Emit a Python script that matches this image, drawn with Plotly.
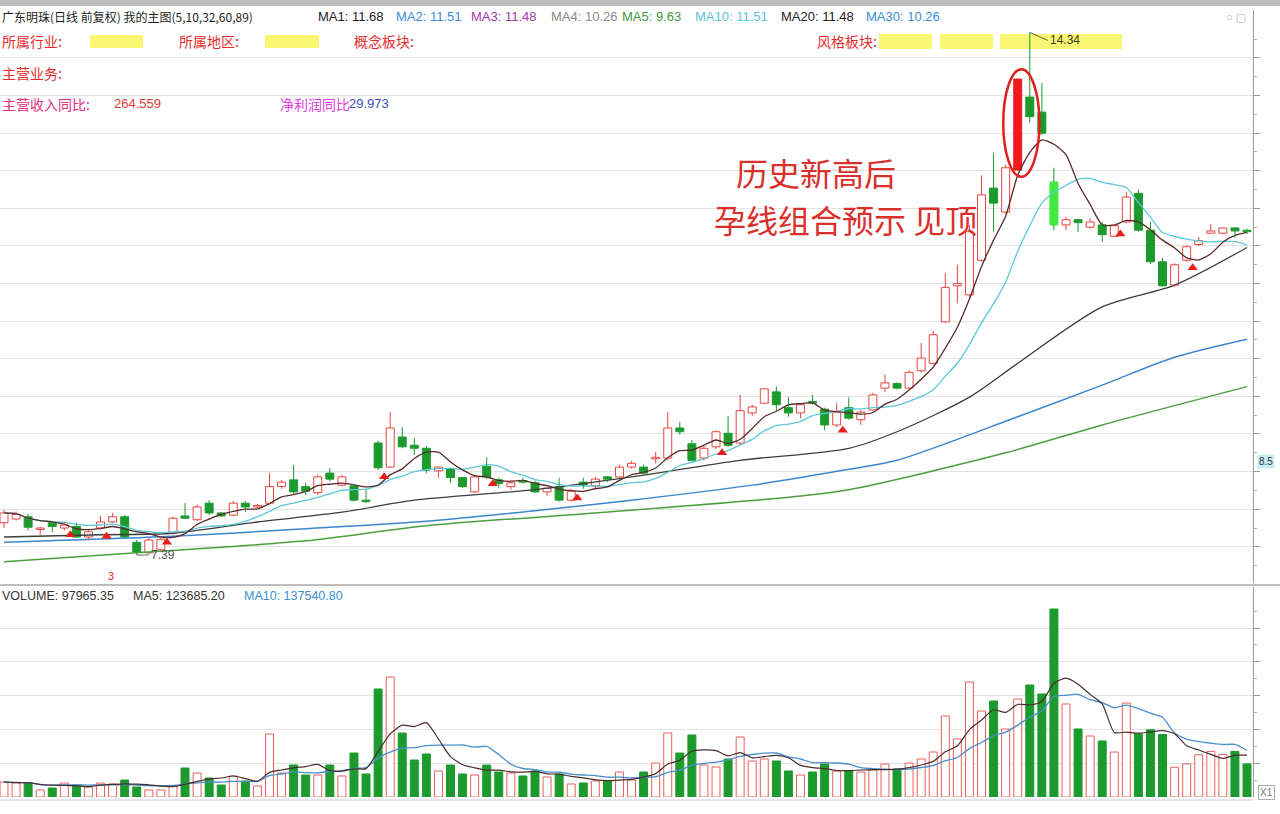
import pandas as pd
import plotly.graph_objects as go

# ---------------- daily quotes (forward-adjusted) ----------------
open_ = [7.82, 7.87, 7.90, 7.73, 7.82, 7.75, 7.77, 7.63, 7.75, 7.83,
         7.90, 7.56, 7.42, 7.46, 7.68, 7.91, 7.86, 8.08, 7.95, 7.92,
         8.08, 8.03, 8.08, 8.30, 8.39, 8.30, 8.22, 8.48, 8.32, 8.31,
         8.12, 8.88, 8.56, 8.96, 8.85, 8.81, 8.51, 8.54, 8.42, 8.23,
         8.57, 8.39, 8.30, 8.38, 8.35, 8.23, 8.30, 8.12, 8.36, 8.31,
         8.43, 8.43, 8.56, 8.56, 8.67, 8.68, 9.08, 8.87, 8.68, 8.83,
         9.01, 8.88, 9.28, 9.41, 9.56, 9.35, 9.28, 9.43, 9.33, 9.12,
         9.35, 9.19, 9.32, 9.61, 9.67, 9.61, 9.84, 9.94, 10.49, 10.97,
         10.85, 11.31, 12.27, 11.95, 12.51, 13.48, 13.28, 12.35, 11.78, 11.85,
         11.75, 11.78, 11.63, 11.82, 12.20, 11.71, 11.29, 10.98, 11.31, 11.52,
         11.67, 11.67, 11.74, 11.71]
high = [7.99, 7.97, 7.94, 7.76, 7.84, 7.83, 7.82, 7.72, 7.91, 7.95,
        7.92, 7.59, 7.62, 7.63, 7.90, 8.08, 8.06, 8.12, 7.96, 8.11,
        8.11, 8.07, 8.48, 8.39, 8.59, 8.35, 8.46, 8.55, 8.46, 8.34,
        8.26, 8.91, 9.29, 9.09, 8.95, 8.84, 8.57, 8.55, 8.43, 8.44,
        8.69, 8.42, 8.39, 8.42, 8.38, 8.28, 8.42, 8.27, 8.42, 8.43,
        8.44, 8.59, 8.64, 8.59, 8.76, 9.29, 9.16, 8.92, 8.84, 9.05,
        9.24, 9.52, 9.39, 9.61, 9.63, 9.49, 9.40, 9.52, 9.35, 9.41,
        9.49, 9.32, 9.55, 9.79, 9.69, 9.85, 10.21, 10.37, 11.14, 11.25,
        11.78, 12.44, 12.74, 12.58, 13.72, 14.34, 13.67, 12.54, 11.89, 11.86,
        11.87, 11.82, 11.79, 12.22, 12.25, 11.82, 11.34, 11.27, 11.51, 11.62,
        11.79, 11.74, 11.75, 11.73]
low = [7.75, 7.85, 7.72, 7.66, 7.69, 7.72, 7.62, 7.59, 7.72, 7.82,
       7.62, 7.39, 7.40, 7.44, 7.66, 7.87, 7.84, 7.92, 7.90, 7.91,
       7.96, 8.01, 8.06, 8.27, 8.20, 8.19, 8.19, 8.37, 8.30, 8.10,
       8.08, 8.52, 8.55, 8.81, 8.72, 8.48, 8.42, 8.35, 8.28, 8.22,
       8.40, 8.28, 8.26, 8.34, 8.22, 8.18, 8.10, 8.10, 8.27, 8.28,
       8.36, 8.42, 8.54, 8.46, 8.61, 8.65, 8.99, 8.63, 8.65, 8.80,
       8.83, 8.85, 9.24, 9.40, 9.29, 9.23, 9.21, 9.39, 9.05, 9.09,
       9.19, 9.12, 9.31, 9.56, 9.59, 9.59, 9.82, 9.92, 10.48, 10.74,
       10.82, 11.29, 11.69, 11.93, 12.50, 13.14, 12.98, 11.71, 11.71, 11.69,
       11.73, 11.55, 11.62, 11.80, 11.69, 11.26, 10.96, 10.96, 11.29, 11.50,
       11.67, 11.66, 11.61, 11.66]
close = [7.95, 7.93, 7.76, 7.75, 7.77, 7.79, 7.63, 7.70, 7.83, 7.90,
         7.63, 7.43, 7.59, 7.60, 7.88, 7.88, 8.03, 7.95, 7.91, 8.08,
         8.03, 8.05, 8.30, 8.36, 8.23, 8.24, 8.43, 8.40, 8.43, 8.12,
         8.10, 8.55, 9.08, 8.83, 8.81, 8.52, 8.56, 8.42, 8.30, 8.43,
         8.43, 8.34, 8.35, 8.36, 8.23, 8.28, 8.12, 8.24, 8.32, 8.40,
         8.40, 8.56, 8.61, 8.48, 8.69, 9.08, 9.03, 8.65, 8.81, 9.03,
         8.85, 9.31, 9.36, 9.60, 9.39, 9.28, 9.39, 9.41, 9.12, 9.29,
         9.21, 9.29, 9.52, 9.68, 9.61, 9.82, 10.01, 10.32, 10.95, 11.00,
         11.69, 12.18, 12.07, 12.54, 13.72, 13.22, 13.00, 11.78, 11.85, 11.81,
         11.82, 11.65, 11.77, 12.15, 11.71, 11.29, 10.97, 11.25, 11.49, 11.57,
         11.70, 11.74, 11.70, 11.69]
volume = [44400, 41400, 41400, 20700, 26600, 41400, 35500, 29600, 41400, 38500,
          50300, 29600, 20700, 20700, 32600, 85800, 71000, 56200, 35500, 62200,
          47400, 32600, 186500, 71000, 94700, 65100, 65100, 94700, 62200, 130200,
          68100, 319700, 355200, 189400, 109500, 127300, 77000, 94700, 68100, 65100,
          94700, 74000, 71000, 62200, 77000, 59200, 68100, 38500, 41400, 47400,
          47400, 74000, 50300, 74000, 100600, 189400, 130200, 183500, 94700, 88800,
          112500, 177600, 106600, 112500, 106600, 77000, 65100, 74000, 97700, 77000,
          77000, 74000, 79900, 97700, 82900, 100600, 112500, 133200, 239800, 171700,
          340400, 254600, 284200, 201300, 290100, 331500, 304900, 556500, 275300, 201300,
          180600, 165800, 133200, 278200, 187000, 199000, 185000, 88000, 97982, 125000,
          135000, 126000, 134460.65, 97965.35]

# long-period averages of the study "我的主图(5,10,32,60,89)"
ma32_idx = [0, 8, 14, 21, 28, 34, 44, 52, 61, 70, 74, 80, 84, 91, 97, 103]
ma32_val = [7.63, 7.66, 7.68, 7.83, 7.96, 8.12, 8.26, 8.43, 8.65, 8.81, 9.03, 9.49, 9.94, 10.69, 10.98, 11.48]
ma60_idx = [0, 14, 25, 35, 44, 52, 62, 70, 74, 84, 91, 97, 103]
ma60_val = [7.56, 7.64, 7.74, 7.84, 7.98, 8.12, 8.32, 8.53, 8.65, 9.23, 9.65, 10.02, 10.26]
ma89_idx = [0, 11, 25, 35, 49, 65, 70, 83, 91, 103]
ma89_val = [7.30, 7.42, 7.58, 7.78, 7.95, 8.16, 8.26, 8.75, 9.12, 9.63]

# buy-signal arrows under the bars
signal_idx = [5.5, 8.5, 13.5, 31.5, 40.5, 47.5, 59.5, 69.5, 92.5, 98.5]
signal_px = [7.66, 7.64, 7.56, 8.43, 8.34, 8.15, 8.75, 9.05, 11.66, 11.21]

# ---------------- derived series ----------------
n = len(close)
idx = list(range(n))
ma5 = pd.Series(close).rolling(5, min_periods=1).mean()
ma10 = pd.Series(close).rolling(10, min_periods=1).mean()
vma5 = pd.Series(volume).rolling(5, min_periods=1).mean()
vma10 = pd.Series(volume).rolling(10, min_periods=1).mean()
hi_i = max(idx, key=lambda i: high[i])
lo_i = min(idx, key=lambda i: low[i])

# ---------------- styling ----------------
W, H = 1280, 814
def px_x(v):
    return v / W
def px_y(v):
    return 1 - v / H

RED = "#e4463f"
GREEN = "#1c9a2d"
FILL = {84: "#f0191b", 87: "#3fea3f"}
BODY_W = 0.66
MIN_BODY = 0.012
CJK = "Noto Sans CJK SC, Liberation Sans, sans-serif"
LAT = "Liberation Sans, DejaVu Sans, sans-serif"

up = [i for i in idx if close[i] >= open_[i]]
dn = [i for i in idx if close[i] < open_[i]]


def wicks(ids):
    xs, ys = [], []
    for i in ids:
        lo, hi = min(open_[i], close[i]), max(open_[i], close[i])
        if high[i] > hi:
            xs += [i, i, None]
            ys += [hi, high[i], None]
        if low[i] < lo:
            xs += [i, i, None]
            ys += [low[i], lo, None]
    return xs, ys


fig = go.Figure()

# price moving averages
fig.add_trace(go.Scatter(x=ma89_idx, y=ma89_val, mode="lines", line=dict(color="#4c9e3e", width=1.5, shape="spline", smoothing=0.8)))
fig.add_trace(go.Scatter(x=ma60_idx, y=ma60_val, mode="lines", line=dict(color="#3b86cf", width=1.5, shape="spline", smoothing=0.8)))
fig.add_trace(go.Scatter(x=ma32_idx, y=ma32_val, mode="lines", line=dict(color="#3d3d3d", width=1.3, shape="spline", smoothing=0.8)))
fig.add_trace(go.Scatter(x=idx, y=ma10, mode="lines", line=dict(color="#5cc8d8", width=1.3, shape="spline", smoothing=0.6)))
fig.add_trace(go.Scatter(x=idx, y=ma5, mode="lines", line=dict(color="#5a2b2b", width=1.3, shape="spline", smoothing=0.6)))

# wicks
wx, wy = wicks(up)
fig.add_trace(go.Scatter(x=wx, y=wy, mode="lines", line=dict(color=RED, width=1)))
wx, wy = wicks(dn)
fig.add_trace(go.Scatter(x=wx, y=wy, mode="lines", line=dict(color=GREEN, width=1)))

# candle bodies
fig.add_trace(go.Bar(
    x=up, base=[min(open_[i], close[i]) for i in up],
    y=[max(abs(close[i] - open_[i]), MIN_BODY) for i in up], width=BODY_W,
    marker=dict(color=[FILL.get(i, "white") for i in up],
                line=dict(color=[FILL.get(i, RED) for i in up], width=1))))
fig.add_trace(go.Bar(
    x=dn, base=[min(open_[i], close[i]) for i in dn],
    y=[max(abs(close[i] - open_[i]), MIN_BODY) for i in dn], width=BODY_W,
    marker=dict(color=[FILL.get(i, GREEN) for i in dn],
                line=dict(color=[FILL.get(i, GREEN) for i in dn], width=1))))

# signal arrows
fig.add_trace(go.Scatter(x=signal_idx, y=signal_px, mode="markers",
                         marker=dict(symbol="triangle-up", size=9, color="#e8201c")))

# volume bars
fig.add_trace(go.Bar(x=up, y=[volume[i] for i in up], width=BODY_W, xaxis="x2", yaxis="y2",
                     marker=dict(color="white", line=dict(color="#e8605c", width=1))))
fig.add_trace(go.Bar(x=dn, y=[volume[i] for i in dn], width=BODY_W, xaxis="x2", yaxis="y2",
                     marker=dict(color=GREEN, line=dict(color=GREEN, width=1))))
fig.add_trace(go.Scatter(x=idx, y=vma10, mode="lines", xaxis="x2", yaxis="y2",
                         line=dict(color="#4a8fcc", width=1.3, shape="spline", smoothing=0.6)))
fig.add_trace(go.Scatter(x=idx, y=vma5, mode="lines", xaxis="x2", yaxis="y2",
                         line=dict(color="#4a2d2d", width=1.2, shape="spline", smoothing=0.6)))

# ---------------- axes ----------------
x_range = [-0.3315, 103.496]
x_dom = [0, 1253 / W]
grid = "#e3e3e3"
price_ticks = [7.5 + 0.5 * k for k in range(14)]
price_minor = [7.25 + 0.5 * k for k in range(15)]
vol_ticks = [100000 * k for k in range(1, 6)]
vol_minor = [50000 + 100000 * k for k in range(6)]

fig.update_layout(
    width=W, height=H, margin=dict(l=0, r=0, t=0, b=0),
    paper_bgcolor="white", plot_bgcolor="white",
    showlegend=False, hovermode=False, barmode="overlay",
    xaxis=dict(domain=x_dom, range=x_range, visible=False, anchor="y"),
    xaxis2=dict(domain=x_dom, range=x_range, visible=False, anchor="y2", matches="x"),
    yaxis=dict(domain=[px_y(583), px_y(10)], range=[7.0186, 14.638], side="right",
               tickvals=price_ticks, showgrid=True, gridcolor=grid, gridwidth=1,
               showticklabels=False, ticks="outside", ticklen=6, tickcolor="#9a9a9a",
               minor=dict(tickvals=price_minor, ticks="outside", ticklen=3, tickcolor="#b0b0b0", showgrid=False),
               showline=True, linecolor="#9a9a9a", linewidth=1, zeroline=False, anchor="x"),
    yaxis2=dict(domain=[px_y(797), px_y(587)], range=[0, 621600], side="right",
                tickvals=vol_ticks, showgrid=True, gridcolor=grid, gridwidth=1,
                showticklabels=False, ticks="outside", ticklen=6, tickcolor="#9a9a9a",
                minor=dict(tickvals=vol_minor, ticks="outside", ticklen=3, tickcolor="#b0b0b0", showgrid=False),
                showline=True, linecolor="#9a9a9a", linewidth=1, zeroline=False, anchor="x2"),
)

# ---------------- frame and highlights ----------------
shapes = [
    dict(type="rect", xref="paper", yref="paper", x0=0, x1=1, y0=px_y(6), y1=1,
         fillcolor="#bdbdbd", line=dict(width=0)),
    dict(type="line", xref="paper", yref="paper", x0=0, x1=1, y0=px_y(585), y1=px_y(585),
         line=dict(color="#a8a8a8", width=1.5)),
    dict(type="line", xref="paper", yref="paper", x0=0, x1=px_x(1253), y0=px_y(800), y1=px_y(800),
         line=dict(color="#cfcfcf", width=1)),
    dict(type="circle", xref="x", yref="y", x0=82.8, x1=85.8, y0=12.42, y1=13.85,
         line=dict(color="#e0201c", width=2.5)),
]
for x0, y0, x1, y1 in [(90, 35, 143, 48), (265, 35, 319, 48), (879, 34, 932, 49),
                       (940, 34, 993, 49), (1000, 34, 1122, 49)]:
    shapes.append(dict(type="rect", xref="paper", yref="paper", layer="below",
                       x0=px_x(x0), x1=px_x(x1), y0=px_y(y1), y1=px_y(y0),
                       fillcolor="#f8f45c", opacity=0.85, line=dict(width=0)))
fig.update_layout(shapes=shapes)

ann = []


def text(x, y, s, color, size=13, family=LAT, **kw):
    ann.append(dict(x=px_x(x), y=px_y(y), xref="paper", yref="paper", text=s, showarrow=False,
                    xanchor=kw.pop("xanchor", "left"), yanchor="middle",
                    font=dict(color=color, size=size, family=family), **kw))


# header line with the average readouts
text(0, 17, "广东明珠(日线 前复权) 我的主图(5,10,32,60,89)", "#1e1e1e", 12, CJK)
text(316, 17, f"MA1: {ma5.iloc[-1]:.2f}", "#1e1e1e", 13)
text(394, 17, f"MA2: {ma10.iloc[-1]:.2f}", "#3b8ed6", 13)
text(469, 17, f"MA3: {ma32_val[-1]:.2f}", "#a43aa8", 13)
text(549, 17, f"MA4: {ma60_val[-1]:.2f}", "#8a8a8a", 13)
text(620, 17, f"MA5: {ma89_val[-1]:.2f}", "#3f9b3f", 13)
text(693, 17, f"MA10: {ma10.iloc[-1]:.2f}", "#5cc6d6", 13)
text(779, 17, f"MA20: {ma32_val[-1]:.2f}", "#1e1e1e", 13)
text(864, 17, f"MA30: {ma60_val[-1]:.2f}", "#3b8ed6", 13)
text(1224, 17, "○ ▢", "#b0b0b0", 11)

# company info rows
text(0, 41, "所属行业:", "#e42b2b", 14, CJK)
text(177, 41, "所属地区:", "#e42b2b", 14, CJK)
text(352, 41, "概念板块:", "#e42b2b", 14, CJK)
text(815, 41, "风格板块:", "#e42b2b", 14, CJK)
text(0, 73, "主营业务:", "#e42b2b", 14, CJK)
text(0, 104, "主营收入同比:", "#e0307f", 14, CJK)
text(112, 104, "264.559", "#e03a3a", 13)
text(278, 104, "净利润同比", "#e040e0", 14, CJK)
text(347, 104, "29.973", "#3d4cc4", 13)

# commentary
text(816, 172, "历史新高后", "#d9302c", 32, CJK, xanchor="center")
text(845, 219, "孕线组合预示 见顶", "#d9302c", 32, CJK, xanchor="center")

# volume header
text(0, 596, f"VOLUME: {volume[-1]:.2f}", "#333333", 12.5)
text(131, 596, f"MA5: {vma5.iloc[-1]:.2f}", "#333333", 12.5)
text(242, 596, f"MA10: {vma10.iloc[-1]:.2f}", "#3b8fd0", 12.5)

# axis side boxes
text(1257, 461, "8.5", "#333333", 10, bgcolor="#c5edf2")
text(1258, 792, "X1", "#777777", 10, bordercolor="#aaaaaa", borderwidth=1)
text(106, 576, "3", "#e42b2b", 11)

# high / low markers
ann.append(dict(x=hi_i, y=high[hi_i], xref="x", yref="y", text=f"{high[hi_i]:.2f}",
                showarrow=True, arrowhead=0, arrowwidth=1, arrowcolor="#5b6b2f",
                ax=18, ay=8, xanchor="left", yanchor="middle",
                font=dict(color="#3a3a12", size=12, family=LAT)))
ann.append(dict(x=lo_i, y=low[lo_i], xref="x", yref="y", text=f"{low[lo_i]:.2f}",
                showarrow=True, arrowhead=0, arrowwidth=1, arrowcolor="#666666",
                ax=12, ay=0, xanchor="left", yanchor="middle",
                font=dict(color="#555555", size=12, family=LAT)))
fig.update_layout(annotations=ann)

fig.write_html("out.html", config={"displayModeBar": False})
